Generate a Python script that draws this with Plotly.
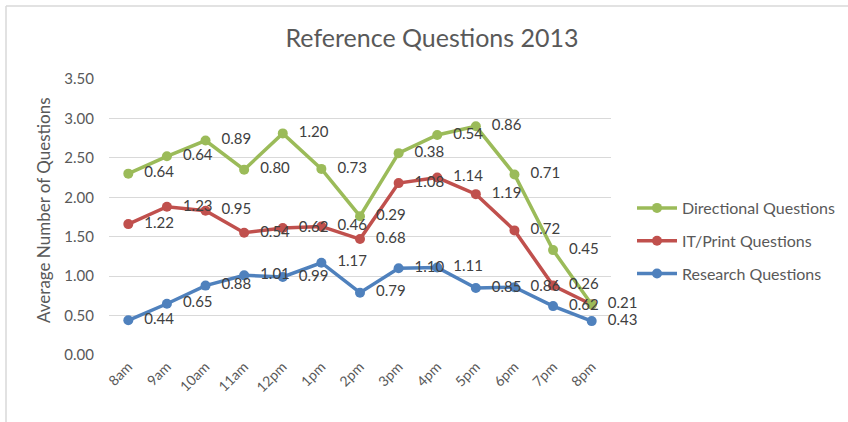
import numpy as np
import plotly.graph_objects as go

hours = ["8am", "9am", "10am", "11am", "12pm", "1pm", "2pm", "3pm", "4pm", "5pm", "6pm", "7pm", "8pm"]
research = [0.44, 0.65, 0.88, 1.01, 0.99, 1.17, 0.79, 1.10, 1.11, 0.85, 0.86, 0.62, 0.43]
it_print = [1.22, 1.23, 0.95, 0.54, 0.62, 0.46, 0.68, 1.08, 1.14, 1.19, 0.72, 0.26, 0.21]
directional = [0.64, 0.64, 0.89, 0.80, 1.20, 0.73, 0.29, 0.38, 0.54, 0.86, 0.71, 0.45, 0.00]

series = [
    ("Research Questions", research, "#4F81BD", 3),
    ("IT/Print Questions", it_print, "#C0504D", 2),
    ("Directional Questions", directional, "#9BBB59", 1),
]

FONT = "Lato, 'Open Sans', sans-serif"
fig = go.Figure()

cum = np.zeros(len(hours))
tops = []
for name, vals, color, rank in series:
    cum = cum + np.array(vals)
    tops.append(cum.copy())
    fig.add_trace(go.Scatter(
        x=hours, y=cum, name=name, mode="lines+markers",
        line=dict(color=color, width=3.5),
        marker=dict(color=color, size=10),
        legendgroup=name, legendrank=rank, cliponaxis=False,
    ))

for (name, vals, color, rank), top in zip(series, tops):
    labels = [f"{v:.2f}" if v > 0 else "" for v in vals]
    fig.add_trace(go.Scatter(
        x=hours, y=top, mode="markers+text", text=labels,
        textposition="middle right",
        textfont=dict(family=FONT, size=15, color="#404040"),
        marker=dict(size=24, opacity=0),
        showlegend=False, hoverinfo="skip", cliponaxis=False,
    ))

W, H = 848, 422
L, R, T, B = 109, 611, 79, 355

def px(x):
    return (x - L) / (R - L)

def py(y):
    return (B - y) / (B - T)

fig.update_layout(
    width=W, height=H,
    margin=dict(l=L, r=W - R, t=T, b=H - B, autoexpand=False),
    paper_bgcolor="white", plot_bgcolor="white",
    font=dict(family=FONT, color="#595959", size=15),
    title=dict(text="Reference Questions 2013", x=432 / W, xanchor="center",
               y=1 - 38 / H, yanchor="middle",
               font=dict(family=FONT, size=25, color="#595959")),
    xaxis=dict(range=[-0.5, len(hours) - 0.5], showgrid=False, showline=False,
               zeroline=False, tickangle=-45,
               tickfont=dict(size=14, color="#595959"), ticks="", automargin=False),
    yaxis=dict(range=[0, 3.5], dtick=0.5, tickformat=".2f", showgrid=True,
               gridcolor="#D9D9D9", gridwidth=1, zeroline=False, showline=False,
               ticklabelstandoff=14, tickfont=dict(size=15, color="#595959"),
               automargin=False),
    legend=dict(xref="container", yref="container", x=632 / W, y=1 - 191 / H,
                xanchor="left", yanchor="top",
                traceorder="grouped", tracegroupgap=9,
                font=dict(size=16, color="#595959"), itemwidth=40,
                bgcolor="rgba(0,0,0,0)"),
    showlegend=True,
    annotations=[dict(text="Average Number of Questions", textangle=-90,
                      x=px(43), y=py(210), xref="paper", yref="paper",
                      xanchor="center", yanchor="middle",
                      showarrow=False, font=dict(size=17, color="#595959"))],
    shapes=[
        dict(type="line", xref="paper", yref="paper", x0=px(6), x1=px(848), y0=py(6), y1=py(6),
             line=dict(color="#D9D9D9", width=1.5)),
        dict(type="line", xref="paper", yref="paper", x0=px(6), x1=px(6), y0=py(6), y1=py(422),
             line=dict(color="#D9D9D9", width=1.5)),
    ],
)

fig.write_html("out.html", config={"displayModeBar": False},
               post_script="document.body.style.margin='0';document.body.style.overflow='hidden';")
